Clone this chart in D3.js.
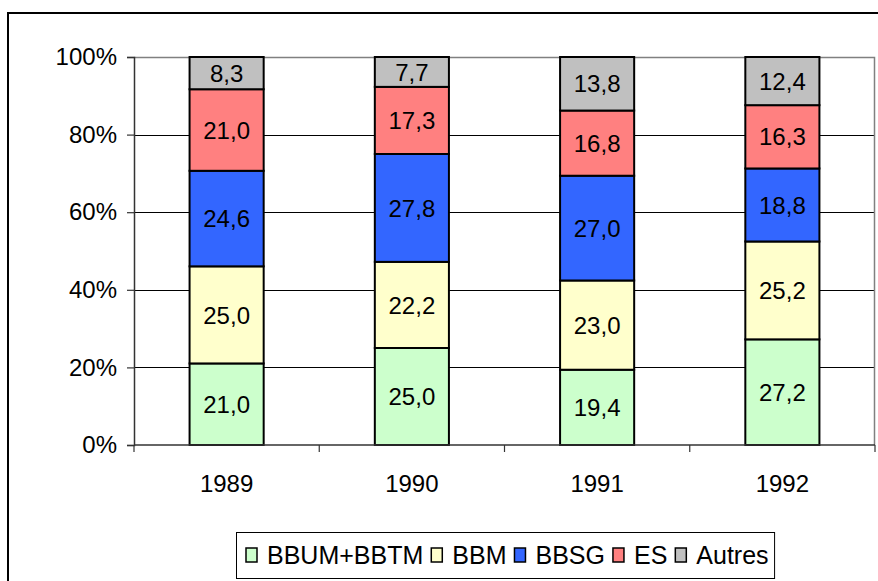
<!DOCTYPE html>
<html>
<head>
<meta charset="utf-8">
<script src="https://cdn.jsdelivr.net/npm/d3@7"></script>
<style>
  body { margin: 0; background: #fff; }
  svg { display: block; font-family: "Liberation Sans", Arial, sans-serif; }
</style>
</head>
<body>
<svg id="chart" width="878" height="581"></svg>
<script>
'use strict'

// data (shares in %, per year)
const years = ['1989', '1990', '1991', '1992']
const series = ['BBUM+BBTM', 'BBM', 'BBSG', 'ES', 'Autres']
const bbumBbtm = [21.0, 25.0, 19.4, 27.2]
const bbm      = [25.0, 22.2, 23.0, 25.2]
const bbsg     = [24.6, 27.8, 27.0, 18.8]
const es       = [21.0, 17.3, 16.8, 16.3]
const autres   = [8.3, 7.7, 13.8, 12.4]
const yTicks   = [0, 0.2, 0.4, 0.6, 0.8, 1]

const colors = ['#CCFFCC', '#FFFFCC', '#3366FF', '#FF8080', '#C0C0C0']

const rows = years.map((yr, i) => ({
  year: yr,
  'BBUM+BBTM': bbumBbtm[i],
  'BBM': bbm[i],
  'BBSG': bbsg[i],
  'ES': es[i],
  'Autres': autres[i]
}))

const svg = d3.select('#chart')
const plot = {left: 134, right: 875, top: 57, bottom: 445}
const fontSize = 24

const fr = d3.formatLocale({decimal: ',', thousands: ' ', grouping: [3], currency: ['', ' €']})
const fmt = fr.format('.1f')

// outer chart frame (runs off the right and bottom edge)
svg.append('rect')
  .attr('x', 8).attr('y', 13)
  .attr('width', 900).attr('height', 600)
  .attr('fill', 'none').attr('stroke', '#000').attr('stroke-width', 2)

const x = d3.scaleBand()
  .domain(years)
  .range([plot.left, plot.right])
  .paddingInner(0.6)
  .paddingOuter(0.3)

const y = d3.scaleLinear().domain([0, 1]).range([plot.bottom, plot.top])

const stack = d3.stack().keys(series).offset(d3.stackOffsetExpand)
const layers = stack(rows)

// gridlines
svg.append('g').attr('class', 'grid')
  .selectAll('line').data(yTicks.filter(d => d > 0 && d < 1)).enter().append('line')
  .attr('x1', plot.left).attr('x2', plot.right)
  .attr('y1', d => Math.round(y(d)) + 0.5).attr('y2', d => Math.round(y(d)) + 0.5)
  .attr('stroke', '#000').attr('stroke-width', 1)

// plot area border (top / right), grey
svg.append('path')
  .attr('d', `M${plot.left},${plot.top + 0.5}H${plot.right - 0.5}V${plot.bottom}`)
  .attr('fill', 'none').attr('stroke', '#808080').attr('stroke-width', 1.5)

// bars
const g = svg.append('g').attr('class', 'bars')
layers.forEach((layer, li) => {
  g.selectAll('.seg' + li).data(layer).enter().append('rect')
    .attr('x', d => x(d.data.year))
    .attr('y', d => y(d[1]))
    .attr('width', x.bandwidth())
    .attr('height', d => y(d[0]) - y(d[1]))
    .attr('fill', colors[li])
    .attr('stroke', '#000').attr('stroke-width', 2)
})

// value labels
layers.forEach((layer, li) => {
  g.selectAll('.lab' + li).data(layer).enter().append('text')
    .attr('x', d => x(d.data.year) + x.bandwidth() / 2)
    .attr('y', d => (y(d[0]) + y(d[1])) / 2)
    .attr('dy', '0.36em')
    .attr('text-anchor', 'middle')
    .attr('font-size', fontSize)
    .attr('fill', '#000')
    .text(d => fmt(d.data[layer.key]))
})

// y axis
const yAxis = svg.append('g')
  .attr('transform', `translate(${plot.left},0)`)
  .call(d3.axisLeft(y).tickValues(yTicks).tickFormat(d3.format('.0%')).tickSize(7).tickPadding(10))
yAxis.select('.domain').attr('stroke', '#333').attr('stroke-width', 1.5)
yAxis.selectAll('.tick line').attr('stroke', '#333').attr('stroke-width', 1.2)
yAxis.selectAll('.tick text').attr('font-size', fontSize).attr('fill', '#000')
  .attr('font-family', '"Liberation Sans", Arial, sans-serif')

// x axis: ticks sit between categories
const step = x.step()
const bounds = d3.range(years.length + 1).map(i => plot.left + i * step)
const xAxis = svg.append('g').attr('class', 'x-axis')
xAxis.append('line')
  .attr('x1', plot.left).attr('x2', plot.right)
  .attr('y1', plot.bottom).attr('y2', plot.bottom)
  .attr('stroke', '#333').attr('stroke-width', 1.5)
xAxis.selectAll('.xt').data(bounds).enter().append('line')
  .attr('x1', d => d).attr('x2', d => d)
  .attr('y1', plot.bottom).attr('y2', plot.bottom + 7)
  .attr('stroke', '#333').attr('stroke-width', 1.2)
xAxis.selectAll('text').data(years).enter().append('text')
  .attr('x', d => x(d) + x.bandwidth() / 2)
  .attr('y', plot.bottom + 47)
  .attr('text-anchor', 'middle')
  .attr('font-size', fontSize)
  .text(d => d)

// legend
const legend = svg.append('g').attr('class', 'legend')
const box = legend.append('rect')
  .attr('x', 236.5).attr('y', 532.5).attr('height', 46)
  .attr('fill', '#fff').attr('stroke', '#000').attr('stroke-width', 1)

let cx = 246
series.forEach((s, i) => {
  legend.append('rect')
    .attr('x', cx).attr('y', 548).attr('width', 11).attr('height', 14)
    .attr('fill', colors[i]).attr('stroke', '#000').attr('stroke-width', 1.5)
  const t = legend.append('text')
    .attr('x', cx + 21).attr('y', 564)
    .attr('font-size', fontSize + 1)
    .text(s)
  cx += 21 + t.node().getComputedTextLength() + 8
})
box.attr('width', cx - 236.5 - 2)
</script>
</body>
</html>
